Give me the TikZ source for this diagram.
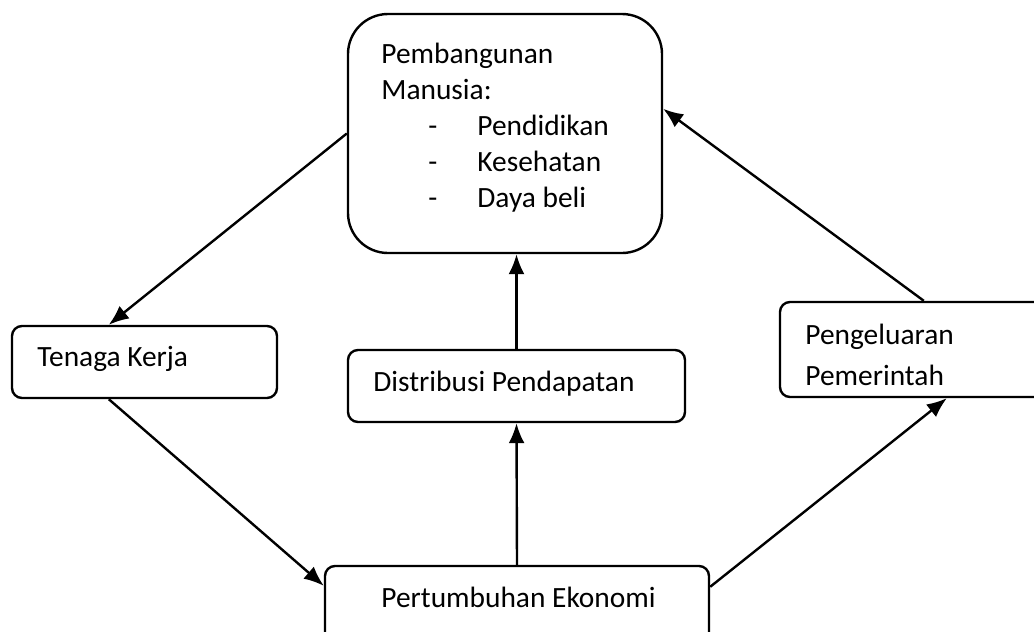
\documentclass[tikz,border=0pt]{standalone}
\usepackage{fontspec}
\setmainfont{Carlito}
\usetikzlibrary{arrows.meta,calc,fit,positioning}

\tikzset{
  box/.style={draw, line width=1.2pt, rounded corners=5pt, inner sep=0pt},
  txt/.style={anchor=base west, inner sep=0pt, font=\fontsize{14.7}{18}\selectfont},
  link/.style={-{Latex[length=10pt,width=8pt]}, line width=1.2pt},
}

\begin{document}
\begin{tikzpicture}[x=0.5pt,y=-0.5pt]
\useasboundingbox (0,0) rectangle (1034,632);
\clip (0,0) rectangle (1034,632);

% boxes
\node[box, rounded corners=20pt, fit={(348,14) (662,253)}] (manusia) {};
\node[box, fit={(12,326) (277,398)}] (tenaga) {};
\node[box, fit={(348,350) (685,422)}] (distribusi) {};
\node[box, fit={(780,302) (1070,397)}] (pengeluaran) {};
\node[box, fit={(325,566) (709,660)}] (pertumbuhan) {};

% texts
\node[txt] (manusia-1) at (381,63) {Pembangunan};
\node[txt] (manusia-2) at (381,99) {Manusia:};
\foreach \item [count=\i] in {Pendidikan,Kesehatan,Daya beli} {
  \node[txt] (dash-\i) at (428,99+36*\i) {-};
  \node[txt] (item-\i) at (477,99+36*\i) {\item};
}
\node[txt] (tenaga-t) at (37,366) {Tenaga Kerja};
\node[txt] (distribusi-t) at (373,391) {Distribusi Pendapatan};
\node[txt] (pengeluaran-1) at (805,344) {Pengeluaran};
\node[txt] (pengeluaran-2) at (805,385) {Pemerintah};
\node[txt] (pertumbuhan-t) at (381,607) {Pertumbuhan Ekonomi};

% connectors
\draw[link] (manusia.west) -- ($(tenaga.north west)+(98,0)$);
\draw[link] ($(tenaga.south west)+(98,0)$) -- ($(pertumbuhan.north west)+(0,21)$);
\draw[link] ($(pertumbuhan.north east)+(0,22)$) -- ($(pengeluaran.south west)+(168,0)$);
\draw[link] ($(pengeluaran.north west)+(145,0)$) -- ($(manusia.north east)+(0,96)$);
\draw[link] (pertumbuhan.north) -- (distribusi.south);
\draw[link] (distribusi.north) -- (distribusi.north |- manusia.south);
\end{tikzpicture}
\end{document}
